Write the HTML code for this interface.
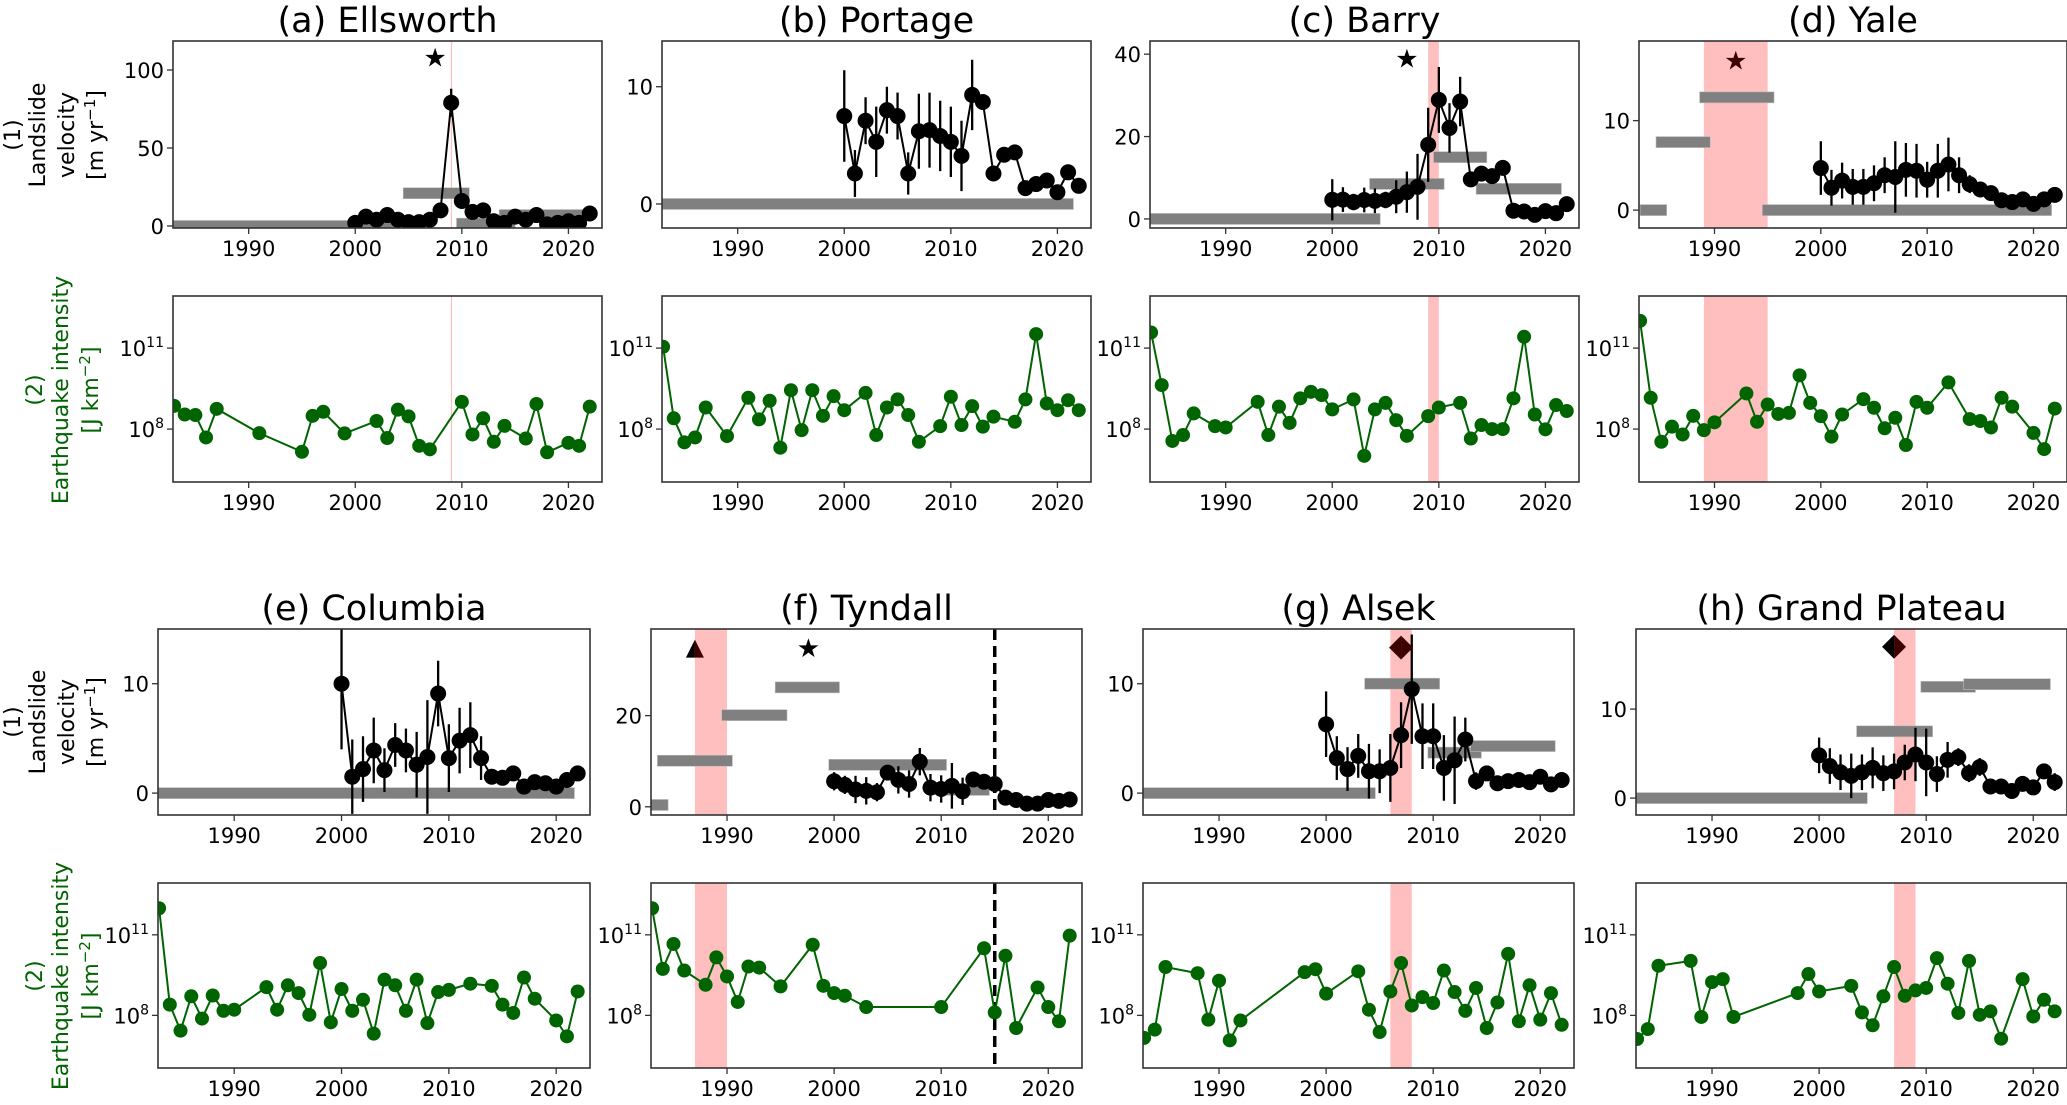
<!DOCTYPE html>
<html><head><meta charset="utf-8">
<style>
html,body{margin:0;padding:0;background:#fff;}
svg{display:block;font-family:"DejaVu Sans","Liberation Sans",sans-serif;}
</style></head>
<body>
<svg id="fig" width="2067" height="1105" viewBox="0 0 2067 1105" xmlns="http://www.w3.org/2000/svg">
<g font-size="22" fill="#000" text-anchor="middle">
<text transform="translate(20,135) rotate(-90)">(1)</text>
<text transform="translate(45,135) rotate(-90)">Landslide</text>
<text transform="translate(74,135) rotate(-90)">velocity</text>
<text transform="translate(103,135) rotate(-90)">[m yr<tspan font-size="15" dy="-8">−1</tspan><tspan dy="8">]</tspan></text>
</g>
<g font-size="22" fill="#006400" text-anchor="middle">
<text transform="translate(42,390) rotate(-90)">(2)</text>
<text transform="translate(68,390) rotate(-90)">Earthquake intensity</text>
<text transform="translate(98,390) rotate(-90)">[J km<tspan font-size="15" dy="-8">−2</tspan><tspan dy="8">]</tspan></text>
</g>
<g font-size="22" fill="#000" text-anchor="middle">
<text transform="translate(20,722) rotate(-90)">(1)</text>
<text transform="translate(45,722) rotate(-90)">Landslide</text>
<text transform="translate(74,722) rotate(-90)">velocity</text>
<text transform="translate(103,722) rotate(-90)">[m yr<tspan font-size="15" dy="-8">−1</tspan><tspan dy="8">]</tspan></text>
</g>
<g font-size="22" fill="#006400" text-anchor="middle">
<text transform="translate(42,976) rotate(-90)">(2)</text>
<text transform="translate(68,976) rotate(-90)">Earthquake intensity</text>
<text transform="translate(98,976) rotate(-90)">[J km<tspan font-size="15" dy="-8">−2</tspan><tspan dy="8">]</tspan></text>
</g>
</svg>
<script>
// ---------- data ----------
const velYears = [2000,2001,2002,2003,2004,2005,2006,2007,2008,2009,2010,2011,2012,2013,2014,2015,2016,2017,2018,2019,2020,2021,2022];
const xTickValues = [1990,2000,2010,2020];
const eqTickExponents = [8,11];

const velA = [2,6,4,7,4,2.5,2.5,4,10,79,16,9,10,3,2,6,4,7,1,2,3,2,8];
const errA = [1,1,1,1,1,1,1,1,2,9,2,1,1,1,1,1,1,1,1,1,1,1,1];
const barsA = [[1982.9,2004.5,0],[2004.5,2010.7,21],[2009.5,2015,1.5],[2013.5,2022,7]];
const eqYearsA = [1983,1984,1985,1986,1987,1991,1995,1996,1997,1999,2002,2003,2004,2005,2006,2007,2010,2011,2012,2013,2014,2016,2017,2018,2020,2021,2022];
const eqLogA = [8.86,8.54,8.52,7.69,8.75,7.85,7.16,8.49,8.64,7.84,8.30,7.67,8.72,8.47,7.38,7.25,9.01,7.80,8.40,7.53,8.12,7.65,8.93,7.14,7.49,7.38,8.83];

const velB = [7.5,2.6,7.1,5.3,8.0,7.5,2.6,6.2,6.3,5.8,5.3,4.1,9.3,8.7,2.6,4.2,4.4,1.35,1.7,2.0,1.0,2.7,1.55];
const errB = [3.9,2,2,3,2,2,1.8,3.2,3.2,3,3,3,3,0.5,0.4,0.5,0.5,0.2,0.2,0.2,0.2,0.2,0.2];
const barsB = [[1982.9,2021.5,0]];
const eqYearsB = [1983,1984,1985,1986,1987,1989,1991,1992,1993,1994,1995,1996,1997,1998,1999,2000,2002,2003,2004,2005,2006,2007,2009,2010,2011,2012,2013,2014,2016,2017,2018,2019,2020,2021,2022];
const eqLogB = [11.05,8.40,7.51,7.69,8.80,7.74,9.16,8.36,9.05,7.31,9.44,7.96,9.44,8.49,9.22,8.70,9.34,7.78,8.80,9.10,8.52,7.53,8.11,9.20,8.15,8.85,8.09,8.46,8.27,9.10,11.52,8.95,8.70,9.07,8.70];

const velC = [4.65,4.7,4.1,4.6,4.4,4.6,5.4,6.5,7.8,18.0,28.9,22.1,28.5,9.6,11.0,10.4,12.4,2.0,1.8,1.0,1.9,1.4,3.6];
const errC = [5,3,2,3,3,2,4,5,8,9,8,6,6,1,1,1,0.5,0.5,0.5,0.5,0.5,0.5,0.5];
const barsC = [[1982.9,2004.5,0],[2003.5,2010.5,8.5],[2009.5,2014.5,15],[2013.5,2021.5,7.3]];
const eqYearsC = [1983,1984,1985,1986,1987,1989,1990,1993,1994,1995,1996,1997,1998,1999,2000,2002,2003,2004,2005,2006,2007,2009,2010,2012,2013,2014,2015,2016,2017,2018,2019,2020,2021,2022];
const eqLogC = [11.58,9.63,7.56,7.78,8.58,8.11,8.06,9.01,7.78,8.83,8.23,9.14,9.38,9.26,8.73,9.10,7.01,8.73,8.97,8.33,7.75,8.48,8.80,8.97,7.65,8.15,8.0,8.0,9.14,11.42,8.54,7.99,8.89,8.67];

const velD = [4.7,2.5,3.3,2.6,2.6,3.0,3.9,3.7,4.5,4.4,3.4,4.4,5.1,3.9,2.9,2.3,1.9,1.1,0.9,1.2,0.7,1.2,1.7];
const errD = [3,2,2,2,2,2,2,4,3,3,2,3,3,2,1,0.8,0.6,0.5,0.5,0.5,0.5,0.5,0.5];
const barsD = [[1983,1985.5,0],[1984.5,1989.6,7.6],[1988.6,1995.6,12.6],[1994.5,2021.7,0]];
const eqYearsD = [1983,1984,1985,1986,1987,1988,1989,1990,1993,1994,1995,1996,1997,1998,1999,2000,2001,2002,2004,2005,2006,2007,2008,2009,2010,2012,2014,2015,2016,2017,2018,2020,2021,2022];
const eqLogD = [12.01,9.16,7.53,8.09,7.80,8.49,7.96,8.25,9.32,8.27,8.91,8.56,8.60,9.99,8.97,8.48,7.72,8.54,9.11,8.79,8.03,8.42,7.41,9.01,8.79,9.73,8.37,8.30,8.06,9.16,8.83,7.86,7.26,8.76];

const velE = [10.0,1.5,2.2,3.9,2.1,4.4,3.9,2.6,3.3,9.1,3.2,4.8,5.3,3.2,1.5,1.4,1.8,0.6,1.0,0.9,0.6,1.2,1.8];
const errE = [6,3.4,3,3,2,2,2,3,5.2,3,3.1,3,3,2,0.5,0.4,0.5,0.3,0.3,0.3,0.3,0.3,0.3];
const barsE = [[1982.9,2021.7,0]];
const eqYearsE = [1983,1984,1985,1986,1987,1988,1989,1990,1993,1994,1995,1996,1997,1998,1999,2000,2001,2002,2003,2004,2005,2006,2007,2008,2009,2010,2012,2014,2015,2016,2017,2018,2020,2021,2022];
const eqLogE = [11.99,8.40,7.43,8.71,7.88,8.74,8.17,8.21,9.05,8.21,9.12,8.83,8.02,9.95,7.74,8.98,8.17,8.58,7.32,9.33,9.12,8.17,9.33,7.71,8.87,8.95,9.18,9.10,8.40,8.09,9.41,8.62,7.81,7.22,8.89];

const velF = [5.6,4.8,3.8,3.5,3.2,7.5,5.9,5.0,9.9,4.2,3.9,4.6,3.4,6.0,5.5,5.0,2.0,1.5,0.7,0.7,1.5,1.3,1.6];
const errF = [2,2,3,3,2,1,3,3,3,3,3,5,3,1,1,1,0.5,0.5,0.5,0.5,0.5,0.5,0.5];
const barsF = [[1982.9,1984.5,0.4],[1983.5,1990.5,10.1],[1989.5,1995.6,20.1],[1994.5,2000.5,26.2],[1999.5,2010.5,9.2],[2010.5,2014.5,3.7]];
const eqYearsF = [1983,1984,1985,1986,1988,1989,1990,1991,1992,1993,1995,1998,1999,2000,2001,2003,2010,2014,2015,2016,2017,2019,2020,2021,2022];
const eqLogF = [11.99,9.73,10.66,9.67,9.14,10.16,9.45,8.50,9.82,9.78,9.08,10.63,9.10,8.83,8.73,8.31,8.31,10.50,8.11,10.22,7.53,9.04,8.31,7.78,10.97];

const velG = [6.3,3.2,2.2,3.4,2.0,2.0,2.3,5.3,9.5,5.2,5.2,2.3,3.0,4.9,1.1,1.8,0.9,1.1,1.2,1.0,1.5,0.8,1.2];
const errG = [3,2,2,2,2.5,2,3.1,3,5,3,3,3,4,2,0.8,0.5,0.5,0.3,0.3,0.3,0.3,0.3,0.6];
const barsG = [[1982.9,2004.6,0],[2003.6,2010.6,10.0],[2009.5,2014.5,3.7],[2013.5,2021.4,4.3]];
const eqYearsG = [1983,1984,1985,1988,1989,1990,1991,1992,1998,1999,2000,2003,2004,2005,2006,2007,2008,2009,2010,2011,2012,2013,2014,2015,2016,2017,2018,2019,2020,2021,2022];
const eqLogG = [7.16,7.47,9.80,9.57,7.84,9.29,7.07,7.81,9.61,9.72,8.81,9.64,8.21,7.38,8.89,9.95,8.37,8.68,8.46,9.67,8.87,8.17,9.02,7.53,8.48,10.29,7.78,9.12,7.84,8.83,7.65];

const velH = [4.8,3.6,2.9,2.5,2.9,3.4,2.8,3.0,4.0,4.9,4.0,2.7,4.3,4.6,2.8,3.5,1.3,1.3,0.8,1.6,1.2,3.0,1.8];
const errH = [2,2,2,2.5,2,2.3,2,2,2,3,3.8,2,2,1,1,1,0.8,0.5,0.5,0.4,0.4,0.5,1];
const barsH = [[1982.9,2004.5,0],[2003.5,2010.6,7.5],[2009.5,2014.6,12.5],[2013.5,2021.6,12.8]];
const eqYearsH = [1983,1984,1985,1988,1989,1990,1991,1992,1998,1999,2000,2003,2004,2005,2006,2007,2008,2009,2010,2011,2012,2013,2014,2015,2016,2017,2019,2020,2021,2022];
const eqLogH = [7.12,7.49,9.85,10.03,7.94,9.24,9.35,7.94,8.83,9.54,8.89,9.10,8.11,7.63,8.71,9.80,8.73,8.93,9.02,10.13,9.18,8.09,10.03,8.02,8.15,7.13,9.35,7.96,8.58,8.15];

// ---------- layout ----------
const X0 = 1982.9, X1 = 2023.15, LOG0 = 6.04, LOG1 = 12.93;
const panels = [
 {id:'a',title:'(a) Ellsworth',x:[173,602],vy:[41,228],ey:[296,482],yr:[-1.3,118.6],yt:[0,50,100],vel:velA,err:errA,bars:barsA,eqX:eqYearsA,eqY:eqLogA,span:[2008.97,2009.05],mk:{t:'star',x:2007.5,y:108,c:'#000'}},
 {id:'b',title:'(b) Portage',x:[662,1091],vy:[41,228],ey:[296,482],yr:[-2.05,13.9],yt:[0,10],vel:velB,err:errB,bars:barsB,eqX:eqYearsB,eqY:eqLogB},
 {id:'c',title:'(c) Barry',x:[1150,1579],vy:[41,228],ey:[296,482],yr:[-2.2,43.2],yt:[0,20,40],vel:velC,err:errC,bars:barsC,eqX:eqYearsC,eqY:eqLogC,span:[2009,2010],mk:{t:'star',x:2007,y:39,c:'#000'}},
 {id:'d',title:'(d) Yale',x:[1639,2067],vy:[41,228],ey:[296,482],yr:[-2.0,18.9],yt:[0,10],vel:velD,err:errD,bars:barsD,eqX:eqYearsD,eqY:eqLogD,span:[1989,1995],mk:{t:'star',x:1992,y:16.7,c:'#3d0000'}},
 {id:'e',title:'(e) Columbia',x:[158,590],vy:[629,815],ey:[883,1068],yr:[-2.0,15.0],yt:[0,10],vel:velE,err:errE,bars:barsE,eqX:eqYearsE,eqY:eqLogE},
 {id:'f',title:'(f) Tyndall',x:[651,1082],vy:[629,815],ey:[883,1068],yr:[-1.8,39],yt:[0,20],vel:velF,err:errF,bars:barsF,eqX:eqYearsF,eqY:eqLogF,span:[1987,1990],dash:2015,mk:{t:'tri',x:1987,y:34.7},mk2:{t:'star',x:1997.6,y:34.8,c:'#000'}},
 {id:'g',title:'(g) Alsek',x:[1143,1574],vy:[629,815],ey:[883,1068],yr:[-2.0,15.0],yt:[0,10],vel:velG,err:errG,bars:barsG,eqX:eqYearsG,eqY:eqLogG,span:[2006,2008],mk:{t:'dia',x:2007,y:13.3,full:true}},
 {id:'h',title:'(h) Grand Plateau',x:[1636,2067],vy:[629,815],ey:[883,1068],yr:[-1.9,19.0],yt:[0,10],vel:velH,err:errH,bars:barsH,eqX:eqYearsH,eqY:eqLogH,span:[2007,2009],mk:{t:'dia',x:2007,y:17.0}}
];

const NS = 'http://www.w3.org/2000/svg';
const svg = document.getElementById('fig');
function el(tag, attrs, parent){
  const e = document.createElementNS(NS, tag);
  for (const k in attrs) e.setAttribute(k, attrs[k]);
  parent.appendChild(e);
  return e;
}

panels.forEach(p => {
  const g = el('g', {}, svg);
  
  
  const [L, R] = p.x;
  const xs = v => L + (v - X0) / (X1 - X0) * (R - L);
  const [VT, VB] = p.vy, [ET, EB] = p.ey;
  const vs = v => VB - (v - p.yr[0]) / (p.yr[1] - p.yr[0]) * (VB - VT);
  const es = v => EB - (v - LOG0) / (LOG1 - LOG0) * (EB - ET);

  const title = el('text', {x:(L+R)/2, y:VT-9, 'text-anchor':'middle', 'font-size':35, fill:'#000'}, g);
  
  
  title.textContent = p.title;

  [[VT,VB,'velocity'],[ET,EB,'earthquake']].forEach(([T,B,kind]) => {
    const cid = 'clip-' + p.id + '-' + kind;
    const cp = el('clipPath', {id:cid}, g);
    el('rect', {x:L, y:T, width:R-L, height:B-T}, cp);
    const ax = el('g', {'clip-path':'url(#'+cid+')'}, g);
    
    
    if (p.span) {
      const s = el('rect', {x:xs(p.span[0]), y:T, width:Math.max(1.2, xs(p.span[1])-xs(p.span[0])), height:B-T, fill:'#ffbfbf'}, ax);
      
      
    }
    if (p.dash) {
      const d = el('line', {x1:xs(p.dash), x2:xs(p.dash), y1:T, y2:B, stroke:'#000', 'stroke-width':3.5, 'stroke-dasharray':'11,6'}, ax);
      
      
    }
    if (kind === 'velocity') {
      p.bars.forEach(b => {
        const r = el('rect', {x:xs(b[0]), y:vs(b[2])-5.5, width:xs(b[1])-xs(b[0]), height:11, fill:'#808080', stroke:'#bbb', 'stroke-width':0.6}, ax);
        
        
      });
      velYears.forEach((yr, i) => {
        const e = el('line', {x1:xs(yr), x2:xs(yr), y1:vs(p.vel[i]-p.err[i]), y2:vs(p.vel[i]+p.err[i]), stroke:'#000', 'stroke-width':2.3}, ax);
        
        
      });
      const pl = el('polyline', {points: velYears.map((yr,i)=>xs(yr)+','+vs(p.vel[i])).join(' '), fill:'none', stroke:'#000', 'stroke-width':2}, ax);
      
      
      velYears.forEach((yr, i) => {
        const c = el('circle', {cx:xs(yr), cy:vs(p.vel[i]), r:8, fill:'#000'}, ax);
        
        
      });
    } else {
      const pl = el('polyline', {points: p.eqX.map((yr,i)=>xs(yr)+','+es(p.eqY[i])).join(' '), fill:'none', stroke:'#006400', 'stroke-width':2}, ax);
      
      
      p.eqX.forEach((yr, i) => {
        const c = el('circle', {cx:xs(yr), cy:es(p.eqY[i]), r:7, fill:'#006400'}, ax);
        
        
      });
    }
    const frame = el('rect', {x:L, y:T, width:R-L, height:B-T, fill:'none', stroke:'#333', 'stroke-width':1.6}, g);
    
    
    // x ticks
    xTickValues.forEach(t => {
      el('line', {x1:xs(t), x2:xs(t), y1:B, y2:B+6, stroke:'#333', 'stroke-width':1.3}, g);
      const tl = el('text', {x:xs(t), y:B+28, 'text-anchor':'middle', 'font-size':21, fill:'#000'}, g);
      
      
      tl.textContent = t;
    });
    // y ticks
    if (kind === 'velocity') {
      p.yt.forEach(t => {
        el('line', {x1:L-6, x2:L, y1:vs(t), y2:vs(t), stroke:'#333', 'stroke-width':1.3}, g);
        const tl = el('text', {x:L-9, y:vs(t)+8, 'text-anchor':'end', 'font-size':21, fill:'#000'}, g);
        
        
        tl.textContent = t;
      });
    } else {
      eqTickExponents.forEach(t => {
        el('line', {x1:L-6, x2:L, y1:es(t), y2:es(t), stroke:'#333', 'stroke-width':1.3}, g);
        const tl = el('text', {x:L-9, y:es(t)+8, 'text-anchor':'end', 'font-size':21, fill:'#000'}, g);
        
        
        const b = el('tspan', {}, tl); b.textContent = '10';
        const s = el('tspan', {'font-size':14, dy:-9}, tl); s.textContent = t;
      });
    }
  });

  [p.mk, p.mk2].forEach(m => {
    if (!m) return;
    const x = xs(m.x), y = vs(m.y);
    if (m.t === 'star') {
      const s = el('text', {x:x, y:y+9, 'text-anchor':'middle', 'font-size':26, fill:m.c}, g);
      
      
      s.textContent = '★';
    } else if (m.t === 'tri') {
      const a = el('polygon', {points:`${x-9},${y+9} ${x},${y-9} ${x},${y+9}`, fill:'#000'}, g);
      
      
      const b = el('polygon', {points:`${x},${y-9} ${x+9},${y+9} ${x},${y+9}`, fill:'#3d0000'}, g);
      
      
    } else {
      const a = el('polygon', {points:`${x},${y-12} ${x},${y+12} ${x-12},${y}`, fill:m.full?'#3d0000':'#000'}, g);
      
      
      const b = el('polygon', {points:`${x},${y-12} ${x+12},${y} ${x},${y+12}`, fill:'#3d0000'}, g);
      
      
    }
  });
});
</script>
</body></html>
